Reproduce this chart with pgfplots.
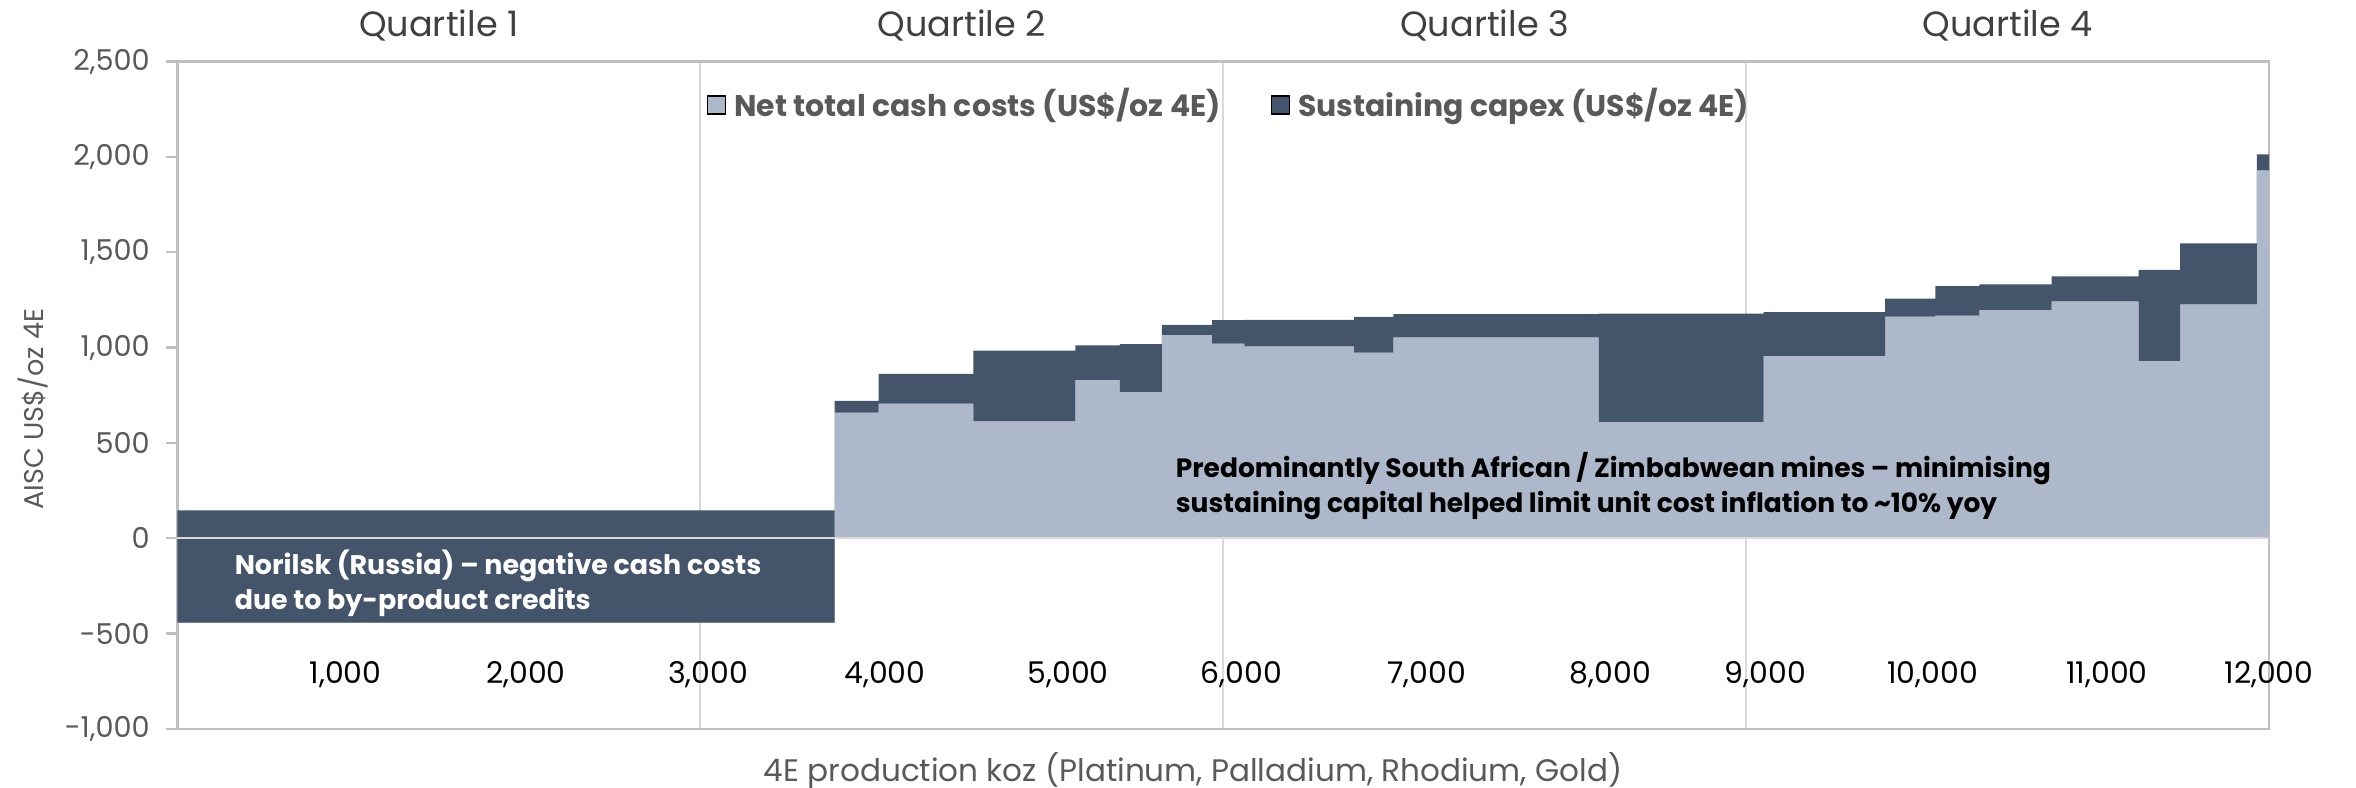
\documentclass[border=0pt]{standalone}
\usepackage{pgfplots}
\pgfplotsset{compat=1.18}
\usepgfplotslibrary{fillbetween}
\usepackage{pgfplotstable}
\usepackage{fontspec}
\setmainfont{Poppins}
\definecolor{lightc}{HTML}{ADB9CA}
\definecolor{darkc}{HTML}{44546A}
\definecolor{txtgray}{HTML}{595959}
\definecolor{ttlgray}{HTML}{404040}
\definecolor{axgray}{HTML}{BFBFBF}
\definecolor{grdgray}{HTML}{D9D9D9}

% x = start of the mine's production interval (koz 4E), net cash cost, AISC (US$/oz 4E)
\pgfplotstableread{
x      net    aisc
0      -442   146
3771   659    720
4023   706    862
4567   614    984
5152   831    1012
5408   768    1018
5649   1067   1119
5936   1021   1144
6121   1007   1145
6751   974    1161
6976   1053   1175
8155   610    1178
9101   956    1186
9797   1163   1257
10086  1168   1322
10338  1198   1331
10753  1243   1373
11252  930    1408
11490  1226   1546
11930  1929   2013
12000  1929   2013
}\costdata

\begin{document}
\begin{tikzpicture}
\begin{axis}[
  at={(0,0)}, anchor=south west,
  width=522.93bp, height=166.83bp, scale only axis,
  xmin=0, xmax=12000, ymin=-1000, ymax=2500,
  clip=false,
  scaled x ticks=false, scaled y ticks=false,
  axis line style={draw=axgray, line width=0.6bp},
  tick align=outside,
  major tick length=2.9bp,
  ytick={-1000,-500,0,500,1000,1500,2000,2500},
  yticklabels={{-1,000},{-500},{0},{500},{1,000},{1,500},{2,000},{2,500}},
  ytick pos=left,
  y tick style={draw=axgray, line width=0.6bp},
  yticklabel style={font=\fontsize{7.2}{8}\selectfont, text=txtgray, xshift=-0.5bp},
  xtick={965,2000,3045,4060,5111,6105,7168,8222,9110,10070,11070,12000},
  xticklabels={{1,000},{2,000},{3,000},{4,000},{5,000},{6,000},{7,000},{8,000},{9,000},{10,000},{11,000},{12,000}},
  xtick pos=bottom,
  x tick style={draw=none},
  xticklabel style={font=\fontsize{7.5}{8}\selectfont, text=black, anchor=center, yshift=16.5bp},
  extra x ticks={3000,6000,9000},
  extra x tick labels={},
  extra x tick style={grid=major, tick style={draw=none}},
  major grid style={draw=grdgray, line width=0.5bp},
  legend style={at={(axis cs:3033,2273)}, anchor=west, draw=none, fill=none,
    inner sep=0pt, legend columns=2,
    font=\bfseries\fontsize{7.5}{8}\selectfont, text=txtgray,
    /tikz/every even column/.append style={column sep=10.5bp}},
  legend image code/.code={\fill[#1] (0bp,-2.25bp) rectangle (4.5bp,2.25bp);},
]
\addplot[name path=net, const plot, draw=none, forget plot] table[x=x, y=net] {\costdata};
\addplot[name path=aisc, const plot, draw=none, forget plot] table[x=x, y=aisc] {\costdata};
\addplot[name path=zero, draw=none, forget plot] coordinates {(0,0) (12000,0)};
\addplot[fill=lightc, draw=none, forget plot] fill between[of=net and zero];
\addplot[fill=darkc, draw=none, forget plot] fill between[of=aisc and net];
\addplot[draw=grdgray, line width=0.5bp, forget plot] coordinates {(0,0) (12000,0)};

\addlegendimage{fill=lightc}
\addlegendentry{Net total cash costs (US\$/oz 4E)}
\addlegendimage{fill=darkc}
\addlegendentry{Sustaining capex (US\$/oz 4E)}

\node[text=ttlgray, inner sep=0pt, font=\fontsize{8.8}{9}\selectfont] at (axis cs:1500,2690) {Quartile 1};
\node[text=ttlgray, inner sep=0pt, font=\fontsize{8.8}{9}\selectfont] at (axis cs:4500,2690) {Quartile 2};
\node[text=ttlgray, inner sep=0pt, font=\fontsize{8.8}{9}\selectfont] at (axis cs:7500,2690) {Quartile 3};
\node[text=ttlgray, inner sep=0pt, font=\fontsize{8.8}{9}\selectfont] at (axis cs:10500,2690) {Quartile 4};

\node[rotate=90, inner sep=0pt, text=txtgray, font=\fontsize{6.8}{8}\selectfont] at (axis cs:-828,678) {AISC US\$/oz 4E};
\node[inner sep=0pt, text=txtgray, font=\fontsize{7.8}{9}\selectfont] at (axis cs:5827,-1221) {4E production koz (Platinum, Palladium, Rhodium, Gold)};

\node[anchor=west, align=left, inner sep=0pt, text=black, font=\bfseries\fontsize{6.65}{8.7}\selectfont] at (axis cs:5724,275)
  {Predominantly South African / Zimbabwean mines – minimising\\sustaining capital helped limit unit cost inflation to \textasciitilde10\% yoy};
\node[anchor=west, align=left, inner sep=0pt, text=white, font=\bfseries\fontsize{6.75}{8.7}\selectfont] at (axis cs:325,-235)
  {Norilsk (Russia) – negative cash costs\\due to by-product credits};
\end{axis}
\pgfresetboundingbox
\path[use as bounding box] (-44.33bp,-14.53bp) rectangle (544.68bp,182.23bp);
\end{tikzpicture}
\end{document}
